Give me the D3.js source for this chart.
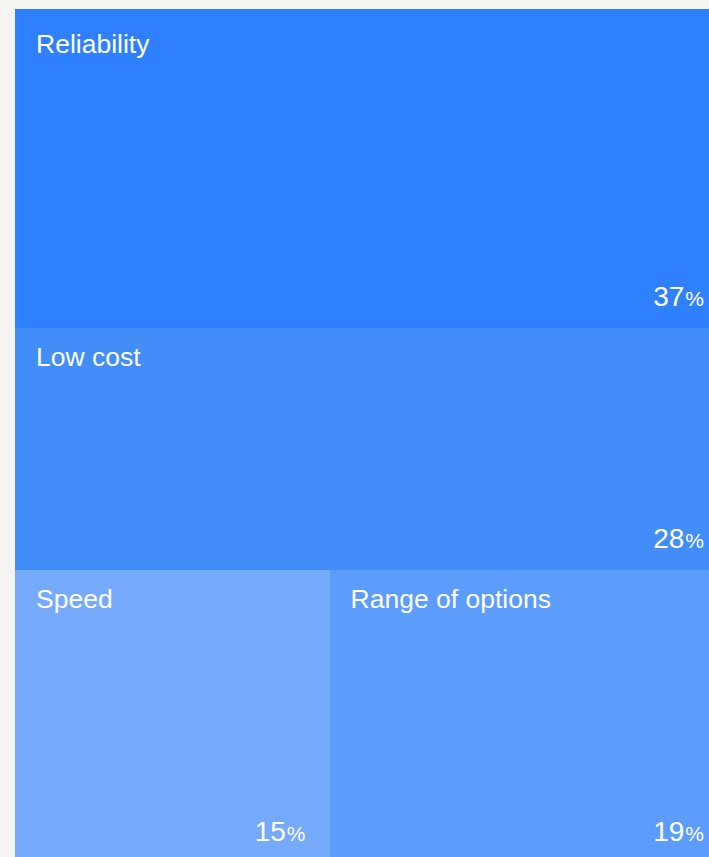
<!DOCTYPE html>
<html>
<head>
<meta charset="utf-8">
<script src="https://cdn.jsdelivr.net/npm/d3@7"></script>
<style>
  html, body { margin: 0; padding: 0; background: #f6f4f1; overflow: hidden; }
  svg { display: block; }
</style>
</head>
<body>
<svg id="chart" width="709" height="857"></svg>
<script>
// Survey shares: what matters most
const categories = ["Reliability", "Low cost", "Speed", "Range of options"];
const shares = [37, 28, 15, 19];
const colors = ["#2f80ff", "#438df8", "#75aafa", "#5c9cfc"];
// first two stack as full-width rows, last two share the bottom row
const rowGroup = [0, 1, 2, 2];

const svg = d3.select("#chart");
const frame = { x0: 15, y0: 9, x1: 728, y1: 863 };

// Build hierarchy: root -> rows -> leaves
const rows = d3.groups(categories.map((c, i) => ({ name: c, value: shares[i], color: colors[i], row: rowGroup[i] })),
  d => d.row);
const root = d3.hierarchy({ children: rows.map(([k, items]) => ({ children: items })) })
  .sum(d => d.value || 0);

d3.treemap()
  .size([frame.x1 - frame.x0, frame.y1 - frame.y0])
  .tile((node, x0, y0, x1, y1) => {
    if (node.depth === 0) d3.treemapSlice(node, x0, y0, x1, y1);
    else d3.treemapDice(node, x0, y0, x1, y1);
  })(root);

const g = svg.append("g").attr("transform", `translate(${frame.x0},${frame.y0})`);
const leaf = g.selectAll("g.cell").data(root.leaves()).join("g").attr("class", "cell");

leaf.append("rect")
  .attr("x", d => d.x0).attr("y", d => d.y0)
  .attr("width", d => d.x1 - d.x0).attr("height", d => d.y1 - d.y0)
  .attr("fill", d => d.data.color)
  .attr("shape-rendering", "crispEdges");

const font = "'Liberation Sans', Arial, sans-serif";

// top row sits a little lower to clear the frame edge
leaf.append("text")
  .attr("x", d => d.x0 + 21).attr("y", d => d.y0 + (d.y0 === 0 ? 44 : 38))
  .attr("fill", "#fff").attr("font-family", font).attr("font-size", 26.5)
  .text(d => d.data.name);

const val = leaf.append("text")
  .attr("x", d => d.x1 - 24).attr("y", d => d.y1 - 22)
  .attr("text-anchor", "end")
  .attr("fill", "#fff").attr("font-family", font).attr("font-size", 28);
val.append("tspan").text(d => d.data.value);
val.append("tspan").attr("font-size", 21).attr("dx", 1).text("%");
</script>
</body>
</html>
